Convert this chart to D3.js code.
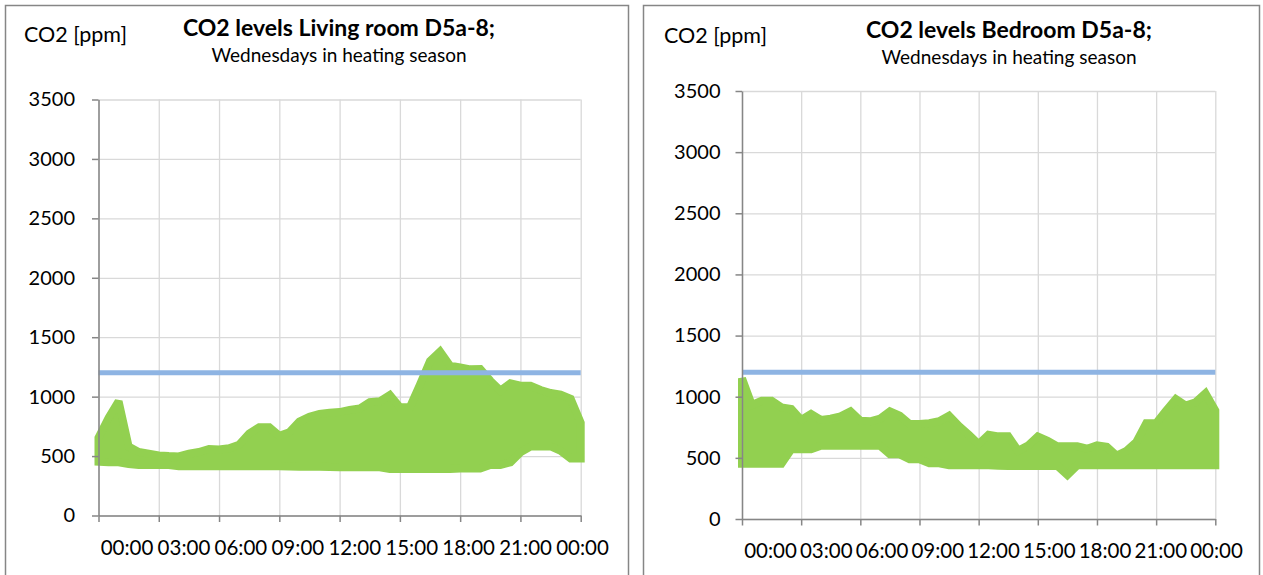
<!DOCTYPE html>
<html lang="en">
<head>
  <meta charset="UTF-8">
  <title>CO2 levels D5a-8</title>
  <style>
    body { margin: 0; background: #fff; }
    svg text { font-family: Lato, "Open Sans", sans-serif; fill: #000; }
  </style>
</head>
<body>
<div id="chart"></div>

<script src="https://cdn.jsdelivr.net/npm/d3@7"></script>
<script>
  // sample grid (hour of day) shared by both rooms
  const hours = [0, 0.5, 1, 1.5, 2, 2.5, 3, 3.5, 4, 4.5, 5, 5.5, 6, 6.5, 7, 7.5, 8, 8.5, 9, 9.5,
    10, 10.5, 11, 11.5, 12, 12.5, 13, 13.5, 14, 14.5, 15, 15.5, 16, 16.5, 17, 17.5, 18, 18.5, 19, 19.5,
    20, 20.5, 21, 21.5, 22, 22.5, 23, 23.5, 24];

  // living room: lowest / highest reading of all Wednesdays per half hour (ppm)
  const livingLow = [453, 447, 447, 433, 425, 425, 425, 425, 414, 414, 414, 414, 414, 414, 414, 414, 414, 414, 414, 412,
    410, 410, 410, 408, 405, 405, 405, 405, 405, 391, 391, 391, 391, 391, 391, 391, 396, 396, 396, 425,
    425, 447, 531, 581, 581, 581, 545, 480, 480];
  const livingHigh = [654, 820, 960, 580, 535, 520, 505, 500, 497, 520, 534, 560, 555, 565, 595, 690, 743, 743, 670, 700,
    790, 830, 855, 865, 870, 888, 900, 953, 961, 1014, 911, 911, 1100, 1300, 1380, 1260, 1246, 1230, 1232, 1134,
    1050, 1112, 1092, 1092, 1056, 1030, 1017, 981, 780];

  // bedroom
  const bedroomLow = [452, 452, 452, 452, 452, 570, 570, 570, 600, 600, 600, 600, 600, 600, 600, 529, 529, 488, 488, 455,
    455, 439, 439, 439, 439, 439, 435, 433, 433, 433, 433, 433, 433, 360, 439, 439, 439, 439, 439, 439,
    439, 439, 439, 439, 439, 439, 439, 439, 439];
  const bedroomHigh = [1150, 932, 967, 967, 913, 900, 810, 859, 810, 820, 840, 881, 804, 799, 820, 881, 845, 777, 777, 783,
    799, 845, 760, 689, 613, 689, 676, 676, 558, 600, 675, 640, 594, 594, 594, 575, 602, 590, 518, 558,
    630, 783, 783, 886, 981, 928, 955, 1028, 886];

  const limit = 1200;

  const yTicks = [0, 500, 1000, 1500, 2000, 2500, 3000, 3500];
  const xTicks = [0, 3, 6, 9, 12, 15, 18, 21, 24];
  const xTickLabels = ["00:00", "03:00", "06:00", "09:00", "12:00", "15:00", "18:00", "21:00", "00:00"];

  const titles = ["CO2 levels Living room D5a-8;", "CO2 levels Bedroom D5a-8;"];
  const subtitle = "Wednesdays in heating season";
  const unitLabel = "CO2 [ppm]";

  const panels = [
    { low: livingLow, high: livingHigh, title: titles[0],
      frame: [5.5, 5.5, 623, 600], x0: 98.5, x1: 580.7, yTop: 99.5, yBot: 515.5,
      titleX: 339, titleY: 36, subY: 62, unitX: 24, unitY: 42, yPad: 17, xLabelY: 39.5,
      labelRange: [126.5, 582] },
    { low: bedroomLow, high: bedroomHigh, title: titles[1],
      frame: [643.5, 5.5, 616, 600], x0: 742, x1: 1215.3, yTop: 91, yBot: 519,
      titleX: 1009, titleY: 38, subY: 64, unitX: 664, unitY: 43, yPad: 15, xLabelY: 38.5,
      labelRange: [770, 1216] }
  ];

  const green = "#92d050", blue = "#8eb4e3", axisGrey = "#868686", gridGrey = "#d9d9d9";

  const svg = d3.select("#chart").append("svg")
    .attr("width", 1263)
    .attr("height", 575);

  panels.forEach(p => {
    // frame
    svg.append("rect")
      .attr("x", p.frame[0]).attr("y", p.frame[1])
      .attr("width", p.frame[2]).attr("height", p.frame[3])
      .attr("fill", "none").attr("stroke", axisGrey).attr("stroke-width", 1.5);

    const x = d3.scaleLinear().domain([0, 24]).range([p.x0, p.x1]);
    const y = d3.scaleLinear().domain([0, 3500]).range([p.yBot, p.yTop]);
    const labelX = d3.scalePoint().domain(xTicks).range(p.labelRange);

    // grid
    svg.append("g")
      .attr("transform", "translate(" + p.x0 + ",0)")
      .call(d3.axisLeft(y).tickValues(yTicks).tickSize(-(p.x1 - p.x0)).tickFormat(""))
      .call(g => g.select(".domain").remove())
      .selectAll("line").attr("stroke", gridGrey).attr("stroke-width", 1.3);
    svg.append("g")
      .attr("transform", "translate(0," + p.yBot + ")")
      .call(d3.axisBottom(x).tickValues(xTicks).tickSize(-(p.yBot - p.yTop)).tickFormat(""))
      .call(g => g.select(".domain").remove())
      .selectAll("line").attr("stroke", gridGrey).attr("stroke-width", 1.3);

    // band of all readings (stroke gives the marker size)
    const band = d3.area()
      .x(d => x(d))
      .y0((d, i) => y(p.low[i]))
      .y1((d, i) => y(p.high[i]))
      .curve(d3.curveLinear);
    svg.append("path")
      .datum(hours)
      .attr("d", band)
      .attr("fill", green)
      .attr("stroke", green)
      .attr("stroke-width", 8)
      .attr("stroke-linejoin", "miter")
      .attr("stroke-miterlimit", 2);

    // 1200 ppm limit
    svg.append("line")
      .attr("x1", x(0)).attr("x2", x(24))
      .attr("y1", y(limit)).attr("y2", y(limit))
      .attr("stroke", blue).attr("stroke-width", 5);

    // axes
    const yAxis = svg.append("g")
      .attr("transform", "translate(" + p.x0 + ",0)")
      .call(d3.axisLeft(y).tickValues(yTicks).tickSize(6.5).tickSizeOuter(0)
        .tickPadding(p.yPad).tickFormat(d3.format("d")));
    yAxis.select(".domain").attr("stroke", axisGrey).attr("stroke-width", 1.5);
    yAxis.selectAll("line").attr("stroke", axisGrey).attr("stroke-width", 1.5);
    yAxis.selectAll("text").style("font-size", "20px").attr("font-family", null);

    const xAxis = svg.append("g")
      .attr("transform", "translate(0," + p.yBot + ")")
      .call(d3.axisBottom(x).tickValues(xTicks).tickSize(6.5).tickSizeOuter(0)
        .tickFormat((d, i) => xTickLabels[i]));
    xAxis.select(".domain").attr("stroke", axisGrey).attr("stroke-width", 1.5);
    xAxis.selectAll("line").attr("stroke", axisGrey).attr("stroke-width", 1.5);
    xAxis.selectAll("text").style("font-size", "20.5px").attr("font-family", null)
      .attr("x", d => labelX(d) - x(d))
      .attr("y", p.xLabelY).attr("dy", 0);
    svg.selectAll(".tick text").attr("fill", "#000");

    // titles
    svg.append("text")
      .attr("x", p.titleX).attr("y", p.titleY)
      .attr("text-anchor", "middle")
      .style("font-size", "23px").style("font-weight", "bold")
      .text(p.title);
    svg.append("text")
      .attr("x", p.titleX).attr("y", p.subY)
      .attr("text-anchor", "middle")
      .style("font-size", "19px")
      .text(subtitle);
    svg.append("text")
      .attr("x", p.unitX).attr("y", p.unitY)
      .style("font-size", "21.5px")
      .text(unitLabel);
  });
</script>
</body>
</html>
